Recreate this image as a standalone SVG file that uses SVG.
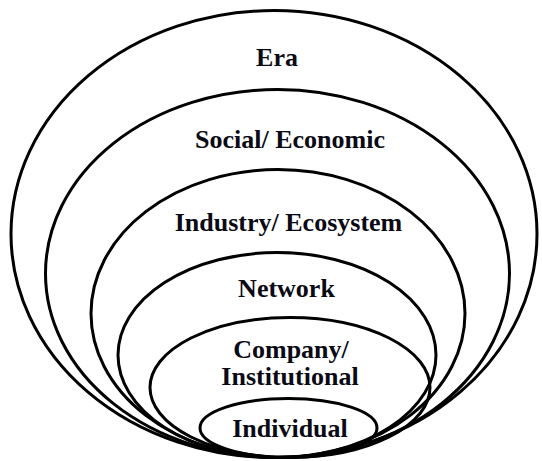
<svg xmlns="http://www.w3.org/2000/svg" width="542" height="461" viewBox="0 0 542 461">
<style>
.ring{fill:none;stroke:#000;stroke-width:3}
.lbl{font-family:'Liberation Serif','Times New Roman',serif;font-weight:700;font-size:26px;fill:#0a0a14;text-anchor:middle}
</style>
<rect width="542" height="461" fill="#fff"/>
<g id="era"><ellipse class="ring" cx="274" cy="234" rx="263" ry="223.5"/><text class="lbl" x="277" y="66">Era</text></g>
<g id="social"><ellipse class="ring" cx="277.5" cy="273.5" rx="232" ry="184"/><text class="lbl" x="290" y="148">Social/ Economic</text></g>
<g id="industry"><ellipse class="ring" cx="278" cy="313.5" rx="187" ry="144"/><text class="lbl" x="288.5" y="231">Industry/ Ecosystem</text></g>
<g id="network"><ellipse class="ring" cx="277" cy="355" rx="159" ry="102.5"/><text class="lbl" x="286.5" y="297">Network</text></g>
<g id="company"><ellipse class="ring" cx="290" cy="387.5" rx="140" ry="70"/><text class="lbl" x="291" y="358">Company/</text><text class="lbl" x="290" y="385">Institutional</text></g>
<g id="individual"><ellipse class="ring" cx="288.5" cy="428" rx="88.5" ry="29.5"/><text class="lbl" x="290" y="437">Individual</text></g>
<g id="connectors"/>
</svg>
